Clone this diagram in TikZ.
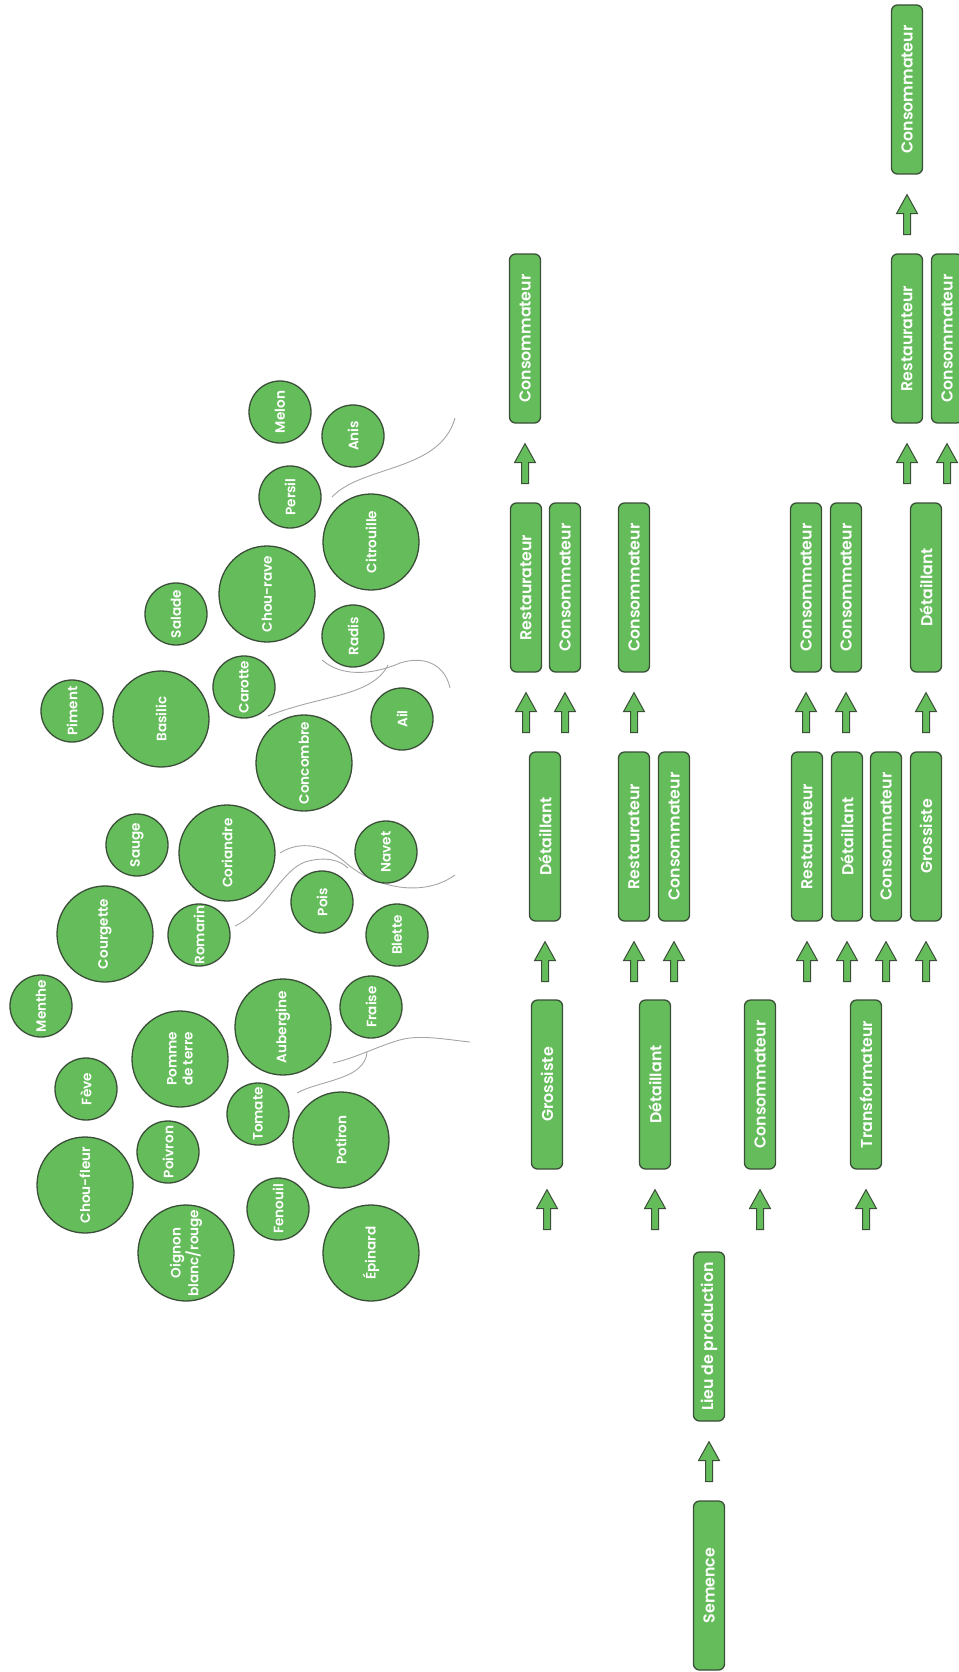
\documentclass[tikz,border=0pt]{standalone}
\usepackage{fontspec}
\newfontfamily\popfont{Poppins SemiBold}
\usetikzlibrary{calc}
\definecolor{leaf}{RGB}{100,189,90}
\definecolor{rim}{RGB}{58,78,56}
\definecolor{vine}{RGB}{165,165,165}

\begin{document}
\begin{tikzpicture}[x=1pt, y=-1pt,
    stage/.style={draw=rim, fill=leaf, line width=1.3pt, rounded corners=6pt, rotate=90, minimum width=169pt, minimum height=31pt, inner sep=0pt, text=white, font=\popfont\fontsize{15.8}{18}\selectfont},
    veg/.style={circle, draw=rim, fill=leaf, line width=1.3pt, minimum size=62pt, inner sep=0pt, rotate=90, text=white, align=center, font=\popfont\fontsize{13.6}{16}\selectfont},
    bigveg/.style={veg, minimum size=96pt},
    stem/.style={draw=vine, line width=0.9pt},
    uparr/.pic={\draw[draw=rim, fill=leaf, line width=1pt] (0,0) -- (10.5,19) -- (3.5,19) -- (3.5,40) -- (-3.5,40) -- (-3.5,19) -- (-10.5,19) -- cycle;}]

        \useasboundingbox (0,0) rectangle (958,1672);

        % Stems between the vegetables
        \draw[stem] (332,497) .. controls (362,465) and (440,472) .. (455,418);
        \draw[stem] (322,660) .. controls (345,680) and (380,672) .. (400,663) .. controls (425,655) and (445,665) .. (450,688);
        \draw[stem] (268,716) .. controls (320,695) and (372,697) .. (388,665);
        \draw[stem] (280,853) .. controls (300,840) and (325,845) .. (345,862) .. controls (370,885) and (420,900) .. (455,875);
        \draw[stem] (235,926) .. controls (265,912) and (282,870) .. (305,862) .. controls (325,856) and (340,860) .. (348,868);
        \draw[stem] (333,1063) .. controls (360,1057) and (390,1040) .. (410,1038) .. controls (430,1036) and (450,1040) .. (470,1042);
        \draw[stem] (297,1093) .. controls (320,1080) and (365,1080) .. (367,1052);

        % Vegetables
        \node[bigveg] (citrouille) at (371,542) {Citrouille};
        \node[bigveg] (chourave) at (267,594) {Chou-rave};
        \node[bigveg] (basilic) at (161,719) {Basilic};
        \node[bigveg] (concombre) at (304,763) {Concombre};
        \node[bigveg] (coriandre) at (227,853) {Coriandre};
        \node[bigveg] (courgette) at (105,934) {Courgette};
        \node[bigveg] (aubergine) at (283,1027) {Aubergine};
        \node[bigveg] (pomme) at (180,1059) {Pomme\\de terre};
        \node[bigveg] (choufleur) at (85,1185) {Chou-fleur};
        \node[bigveg] (potiron) at (341,1140) {Potiron};
        \node[bigveg] (oignon) at (186,1253) {Oignon\\blanc/rouge};
        \node[bigveg] (epinard) at (371,1253) {Épinard};

        \node[veg] (melon) at (280,412) {Melon};
        \node[veg] (anis) at (353,436) {Anis};
        \node[veg] (persil) at (290,497) {Persil};
        \node[veg] (salade) at (176,614) {Salade};
        \node[veg] (radis) at (353,636) {Radis};
        \node[veg] (carotte) at (244,687) {Carotte};
        \node[veg] (piment) at (72,711) {Piment};
        \node[veg] (ail) at (402,719) {Ail};
        \node[veg] (sauge) at (137,845) {Sauge};
        \node[veg] (navet) at (386,852) {Navet};
        \node[veg] (pois) at (322,902) {Pois};
        \node[veg] (romarin) at (199,935) {Romarin};
        \node[veg] (blette) at (397,935) {Blette};
        \node[veg] (menthe) at (41,1006) {Menthe};
        \node[veg] (fraise) at (371,1007) {Fraise};
        \node[veg] (feve) at (86,1089) {Fève};
        \node[veg] (tomate) at (258,1114) {Tomate};
        \node[veg] (poivron) at (168,1152) {Poivron};
        \node[veg] (fenouil) at (278,1209) {Fenouil};

        % Start of the chain
        \node[stage] (sem) at (709,1585.5) {Semence};
        \node[stage] (lieu) at (709,1336.5) {Lieu de production};

        % First level
        \node[stage] (a4g) at (547,1084.5) {Grossiste};
        \node[stage] (b4d) at (655,1084.5) {Détaillant};
        \node[stage] (c4c) at (760,1084.5) {Consommateur};
        \node[stage] (d4t) at (866,1084.5) {Transformateur};

        % Second level
        \node[stage] (a3d) at (545,836.5) {Détaillant};
        \node[stage] (b3r) at (634,836.5) {Restaurateur};
        \node[stage] (b3c) at (674,836.5) {Consommateur};
        \node[stage] (d3r) at (807,836.5) {Restaurateur};
        \node[stage] (d3d) at (847,836.5) {Détaillant};
        \node[stage] (d3c) at (886,836.5) {Consommateur};
        \node[stage] (d3g) at (926,836.5) {Grossiste};

        % Third level
        \node[stage] (a2r) at (526,587.5) {Restaurateur};
        \node[stage] (a2c) at (565,587.5) {Consommateur};
        \node[stage] (b2c) at (634,587.5) {Consommateur};
        \node[stage] (d2c) at (806,587.5) {Consommateur};
        \node[stage] (d2k) at (846,587.5) {Consommateur};
        \node[stage] (d2d) at (926,587.5) {Détaillant};

        % Fourth and fifth level
        \node[stage] (a1c) at (525,338.5) {Consommateur};
        \node[stage] (d1r) at (907,338.5) {Restaurateur};
        \node[stage] (d1c) at (947,338.5) {Consommateur};
        \node[stage] (d0c) at (907,89.5) {Consommateur};

        % Arrows into every stage
        \foreach \n in {lieu,a4g,b4d,c4c,d4t,a3d,b3r,b3c,d3r,d3d,d3c,d3g,a2r,a2c,b2c,d2c,d2k,d2d,a1c,d1r,d1c,d0c}
            \pic at ($(\n.west)+(0,20)$) {uparr};

    \end{tikzpicture}
\end{document}
